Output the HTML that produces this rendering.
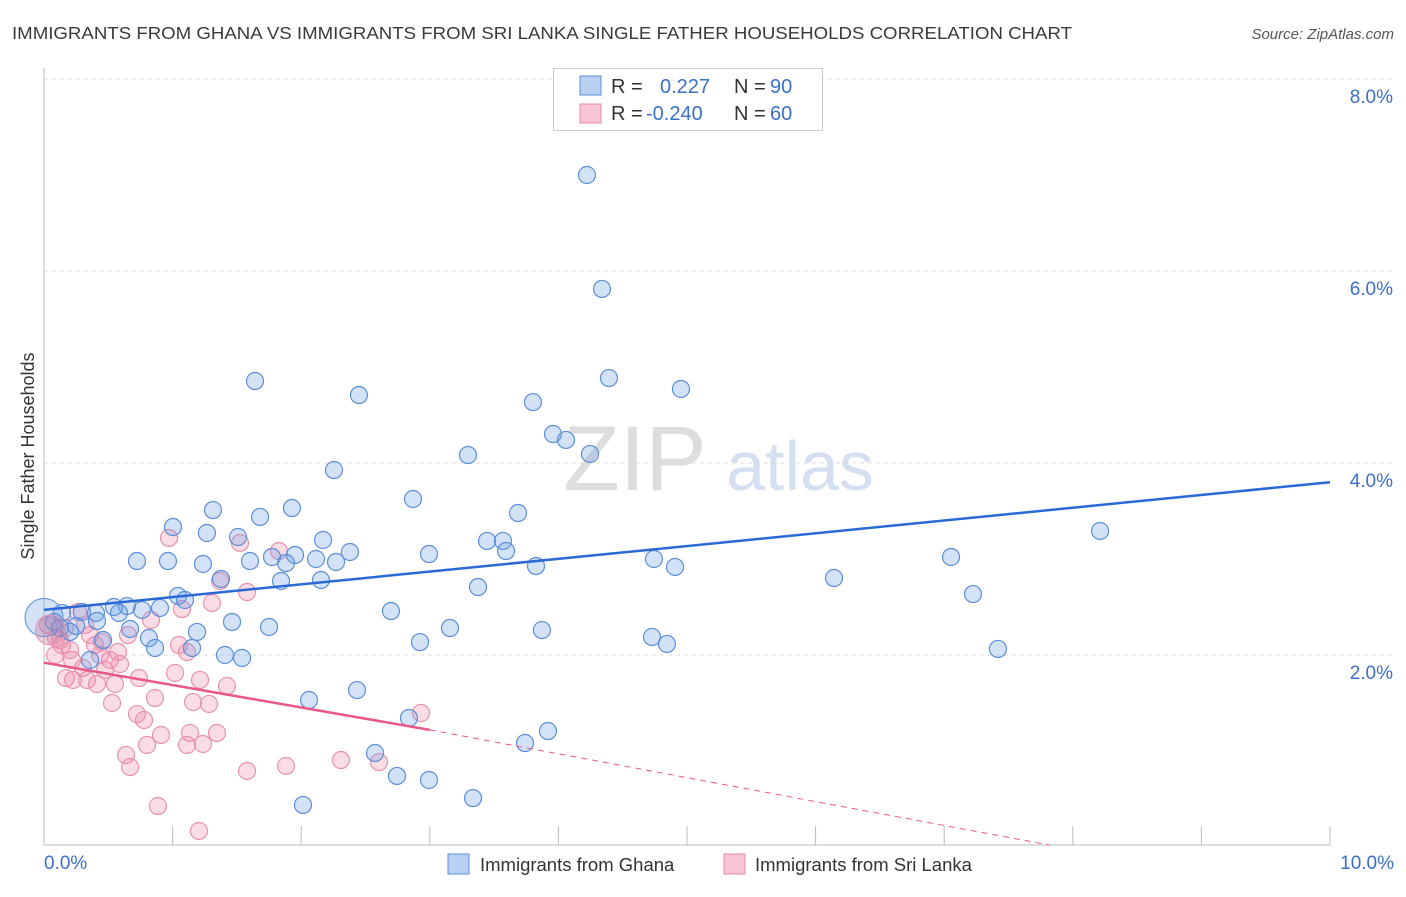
<!DOCTYPE html>
<html><head><meta charset="utf-8"><style>
body{margin:0;background:#fff;font-family:"Liberation Sans",sans-serif}
svg text{font-family:"Liberation Sans",sans-serif}
</style></head><body>
<svg id="c" width="1406" height="892" xmlns="http://www.w3.org/2000/svg">
<text x="12" y="39" font-size="17.5" fill="#3a3a3a" textLength="1060" lengthAdjust="spacingAndGlyphs">IMMIGRANTS FROM GHANA VS IMMIGRANTS FROM SRI LANKA SINGLE FATHER HOUSEHOLDS CORRELATION CHART</text>
<text x="1394" y="39" font-size="15" fill="#555" font-style="italic" text-anchor="end">Source: ZipAtlas.com</text>
<text x="34" y="456" font-size="18" fill="#333" text-anchor="middle" transform="rotate(-90 34 456)">Single Father Households</text>
<g><text x="635" y="490" font-size="92" fill="#ddd" font-family="Liberation Serif" text-anchor="middle">ZIP</text><text x="800" y="490" font-size="70" fill="#d4e0f2" text-anchor="middle">atlas</text></g>
<g id="grid"></g><g id="pts"></g><g id="lines"></g>
<g>
<rect x="553.5" y="68.5" width="269" height="62" fill="#fff" stroke="#ccc"/>
<rect x="580" y="76" width="21" height="19" fill="#b9d0f3" stroke="#5b8fd8"/>
<rect x="580" y="104" width="21" height="19" fill="#f9c4d4" stroke="#e888a8"/>
<text x="611" y="93" font-size="20" fill="#333">R =</text><text x="660" y="93" font-size="20" fill="#3a70c8">0.227</text>
<text x="734" y="93" font-size="20" fill="#333">N =</text><text x="770" y="93" font-size="20" fill="#3a70c8">90</text>
<text x="611" y="120" font-size="20" fill="#333">R =</text><text x="646" y="120" font-size="20" fill="#3a70c8">-0.240</text>
<text x="734" y="120" font-size="20" fill="#333">N =</text><text x="770" y="120" font-size="20" fill="#3a70c8">60</text>
</g>
<g>
<rect x="448" y="854" width="21" height="20" fill="#b9d0f3" stroke="#5b8fd8"/>
<text x="480" y="871" font-size="18.5" fill="#333">Immigrants from Ghana</text>
<rect x="724" y="854" width="21" height="20" fill="#f9c4d4" stroke="#e888a8"/>
<text x="755" y="871" font-size="18.5" fill="#333">Immigrants from Sri Lanka</text>
</g>
</svg>
<script>
const yTicks=[2,4,6,8];
const yTickLabels=["2.0%","4.0%","6.0%","8.0%"];
const xTickLabels=["0.0%","10.0%"];
const bluePx=[[587,175],[602,289],[255,381],[609,378],[681,389],[359,395],[533,402],[553,434],[566,440],[590,454],[468,455],[334,470],[413,499],[292,508],[213,510],[518,513],[260,517],[173,527],[207,533],[238,537],[323,540],[487,541],[503,541],[350,552],[506,551],[272,557],[295,555],[429,554],[316,559],[336,562],[137,561],[168,561],[203,564],[250,561],[286,563],[654,559],[675,567],[536,566],[951,557],[1100,531],[221,579],[281,581],[321,580],[834,578],[478,587],[178,596],[185,600],[973,594],[114,607],[127,606],[82,612],[96,613],[62,613],[142,610],[160,608],[119,613],[391,611],[232,622],[97,621],[76,626],[54,622],[130,629],[269,627],[450,628],[197,632],[542,630],[652,637],[149,638],[103,640],[420,642],[667,644],[155,648],[192,648],[998,649],[225,655],[242,658],[90,660],[357,690],[309,700],[409,718],[548,731],[525,743],[375,753],[397,776],[429,780],[303,805],[473,798],[60,628],[70,632]];
const pinkPx=[[169,538],[240,543],[279,551],[220,581],[247,592],[212,603],[182,609],[151,620],[78,612],[65,628],[56,638],[90,635],[102,642],[128,635],[95,645],[118,652],[62,645],[55,655],[72,660],[110,660],[120,664],[83,668],[105,670],[179,645],[187,652],[73,680],[87,680],[97,684],[66,678],[115,684],[139,678],[175,673],[200,680],[227,686],[155,698],[112,703],[193,702],[209,704],[137,714],[144,720],[161,735],[190,733],[217,733],[126,755],[130,767],[147,745],[187,745],[203,744],[247,771],[286,766],[341,760],[379,762],[421,713],[158,806],[199,831],[60,640],[48,625],[85,625],[100,655],[70,650]];
const blueX=bluePx.map(p=>+((p[0]-44)/128.6).toFixed(3));
const blueY=bluePx.map(p=>+((847-p[1])/96).toFixed(3));
const pinkX=pinkPx.map(p=>+((p[0]-44)/128.6).toFixed(3));
const pinkY=pinkPx.map(p=>+((847-p[1])/96).toFixed(3));
const blueTrend=[2.47,3.80];
const pinkTrend=[1.92,1.22];
const pinkDashEnd=[7.82,0.02];
const X=v=>44+v*128.6, Y=v=>847-v*96;
const NS="http://www.w3.org/2000/svg";
function mk(t,a,p){const e=document.createElementNS(NS,t);for(const k in a)e.setAttribute(k,a[k]);p.appendChild(e);return e;}
const g=document.getElementById('grid');
yTicks.forEach((t,i)=>{
 const l=mk('line',{x1:44,x2:1394,y1:Y(t),y2:Y(t),stroke:'#ddd','stroke-dasharray':'4,4'},g);
 
 
 const tx=mk('text',{x:1393,y:Y(t)+24,'font-size':19,fill:'#3a70c8','text-anchor':'end'},g);tx.textContent=yTickLabels[i];
 
 
});
mk('line',{x1:44,x2:44,y1:68,y2:845,stroke:'#bbb'},g);
mk('line',{x1:44,x2:1330,y1:845,y2:845,stroke:'#bbb'},g);
for(let i=1;i<=10;i++){const t=mk('line',{x1:X(i),x2:X(i),y1:826,y2:845,stroke:'#bbb'},g);
 
 }
[[0,44,'start'],[10,1394,'end']].forEach((d,i)=>{const t=mk('text',{x:d[1],y:869,'font-size':19,fill:'#3a70c8','text-anchor':d[2]},g);t.textContent=xTickLabels[i];
 
 });
const pts=document.getElementById('pts');
pinkX.forEach((x,i)=>{const c=mk('circle',{cx:X(x),cy:Y(pinkY[i]),r:8.5,fill:'rgba(240,140,170,0.3)',stroke:'#e892b0','stroke-width':1.2},pts);
 
 });
blueX.forEach((x,i)=>{const c=mk('circle',{cx:X(x),cy:Y(blueY[i]),r:8.5,fill:'rgba(110,160,230,0.3)',stroke:'#5b8fd8','stroke-width':1.2},pts);
 
 });
const big1=mk('circle',{cx:X(0),cy:Y(2.39),r:19,fill:'rgba(110,160,230,0.3)',stroke:'#5b8fd8'},pts);


const big2=mk('circle',{cx:X(0.05),cy:Y(2.26),r:15,fill:'rgba(200,120,160,0.35)',stroke:'#e892b0'},pts);


const ln=document.getElementById('lines');
const bl=mk('line',{x1:X(0),y1:Y(blueTrend[0]),x2:X(10),y2:Y(blueTrend[1]),stroke:'#2a6ad6','stroke-width':2.5},ln);


const pl=mk('line',{x1:X(0),y1:Y(pinkTrend[0]),x2:X(3),y2:Y(pinkTrend[1]),stroke:'#e8588a','stroke-width':2.5},ln);


const pd=mk('line',{x1:X(3),y1:Y(pinkTrend[1]),x2:X(pinkDashEnd[0]),y2:Y(pinkDashEnd[1]),stroke:'#e8588a','stroke-width':1,'stroke-dasharray':'6,5'},ln);


</script>
</body></html>
